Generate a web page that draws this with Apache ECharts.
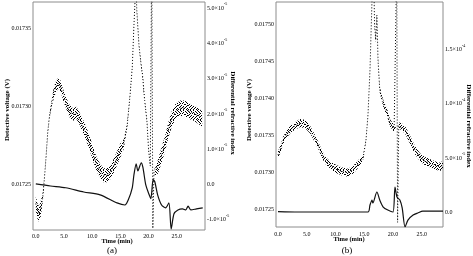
<!DOCTYPE html>
<html>
<head>
<meta charset="utf-8">
<script src="https://cdn.jsdelivr.net/npm/echarts@6/dist/echarts.min.js"></script>
<style>
html, body {margin: 0; padding: 0; background: #fff;}
#chart {width: 473px; height: 256px;}
</style>
</head>
<body>
<div id="chart"></div>
<script>
// ---- panel (a) ----
// detective voltage (V), centre of the noisy trace
var timeA = [0.0, 0.3, 0.6, 0.9, 1.2, 1.5, 1.8, 2.1, 2.4, 2.8, 3.2, 3.6, 4.0, 4.4, 4.9, 5.4,
    6.0, 6.6, 7.2, 7.8, 8.4, 9.0, 9.6, 10.2, 10.8, 11.4, 12.0, 12.6, 13.2, 13.8, 14.4, 15.0,
    15.6, 16.2, 16.7, 17.1, 17.4, 17.6, 17.75, 17.9, 18.3, 18.7, 18.9, 19.3, 19.7, 20.0, 20.3,
    20.55, 20.75, 20.95, 21.2, 21.7, 22.3, 22.9, 23.5, 24.1, 24.8, 25.6, 26.4, 27.2, 28.0, 28.8, 29.5];
var voltA = [0.017238, 0.017233, 0.017231, 0.017235, 0.017241, 0.017253, 0.017267, 0.017283,
    0.017293, 0.017302, 0.017309, 0.017313, 0.017315, 0.017313, 0.017307, 0.017302,
    0.017297, 0.017295, 0.017296, 0.017292, 0.017287, 0.017282, 0.017276, 0.017269,
    0.017263, 0.017259, 0.017256, 0.017256, 0.017258, 0.017262, 0.017267, 0.017272,
    0.017276, 0.017288, 0.017307, 0.017325, 0.017352, 0.017368, 0.017380, 0.017362,
    0.017339, 0.017326, 0.017321, 0.017304, 0.017291, 0.017272, 0.017262,
    0.017400, 0.017222, 0.017259, 0.017258, 0.017262, 0.017269, 0.017276, 0.017285,
    0.017292, 0.017297, 0.017299, 0.017299, 0.017297, 0.017296, 0.017294, 0.017292];
// half thickness of the noise band, in 1e-6 V
var spreadA = [5, 5, 5, 5, 3, 1, 1, 1, 1, 2, 3.5, 3.5, 3.5, 3.5, 3.5, 3.5,
    4, 4, 4, 4, 4.5, 4.5, 4.5, 4.5, 4.5, 4.5, 4.5, 4.5, 4.5, 4.5, 4.5, 4.5,
    3, 1.5, 0.8, 0.8, 0.8, 0.8, 0.8, 0.8, 0.8, 0.8, 2, 0.8, 0.8, 0.8, 0.8,
    0.8, 0.8, 0.8, 3, 4.5, 5, 5, 5, 5, 5, 5, 5, 5, 5, 5, 5];
// differential refractive index, x1e-5
var riTimeA = [0, 2.6, 5.3, 8.5, 11.4, 14.4, 15.8, 16.4, 17.1, 17.4, 17.8, 18.1, 18.7, 19.0,
    19.5, 20.1, 20.4, 20.8, 21.1, 21.6, 22.3, 23.0, 23.6, 24.0, 24.5, 25.2, 26.0, 26.6, 27.0,
    27.5, 28.5, 29.6];
var riA = [-0.03, -0.09, -0.14, -0.26, -0.34, -0.57, -0.63, -0.48, -0.14, 0.23, 0.54, 0.34,
    0.57, 0.43, -0.06, -0.34, -0.45, 0.09, 0.03, -0.34, -0.63, -0.71, -0.57, -1.31, -0.88,
    -0.77, -0.74, -0.77, -0.66, -0.77, -0.74, -0.71];

// ---- panel (b) ----
var timeB = [0.0, 0.5, 0.9, 1.5, 2.1, 2.9, 3.8, 4.7, 5.6, 6.3, 7.0, 7.6, 8.2, 9.0, 9.9, 11.0,
    12.2, 13.2, 14.3, 14.8, 15.3, 15.65, 16.0, 16.35, 16.6, 16.8, 17.0, 17.2, 17.4, 17.7, 18.4,
    19.0, 19.5, 20.2, 20.5, 20.65, 20.8, 21.0, 21.2, 22.1, 23.0, 23.8, 24.7, 25.5, 26.4, 27.3,
    28.2, 28.7];
var voltB = [0.017323, 0.017333, 0.017343, 0.017351, 0.017357, 0.017362, 0.017366, 0.017365,
    0.017357, 0.017347, 0.017336, 0.017325, 0.017316, 0.017310, 0.017305, 0.017301,
    0.017299, 0.017304, 0.017314, 0.017319, 0.017343, 0.017377, 0.017438, 0.017532,
    0.017580, 0.017500, 0.017478, 0.017512, 0.017451, 0.017411, 0.017390,
    0.017380, 0.017366, 0.017359, 0.017360, 0.017580, 0.017232, 0.017362, 0.017363,
    0.017357, 0.017343, 0.017330, 0.017320, 0.017315, 0.017312, 0.017309, 0.017307, 0.017310];
var spreadB = [5, 5, 5, 5, 5, 5, 5.5, 5.5, 5, 5, 5, 5, 5, 5, 5.5, 5.5,
    5.5, 5.5, 5, 3, 1, 1, 1, 1, 1, 3, 4, 3, 2, 4, 5,
    5, 5, 5, 2, 1, 1, 2, 5, 5, 5.5, 5.5, 5.5, 5.5, 5.5, 5.5, 5.5, 5.5];
var riTimeB = [0, 3.5, 15.65, 16.0, 16.35, 16.5, 17.2, 17.7, 18.3, 19.1, 20.0, 20.35, 20.7,
    21.2, 21.6, 22.1, 22.6, 23.5, 24.3, 25.2, 26.4, 28.7];
var riB = [-0.05, -0.09, -0.09, 0.55, 1.01, 0.74, 1.75, 1.01, 0.37, 0.09, -0.09, 2.21, 1.29,
    1.01, 0.28, -1.47, -0.83, -0.37, -0.18, 0, 0, 0];

// tick labels
var timeTicks = [0, 5, 10, 15, 20, 25];
var voltTicksA = [0.01725, 0.0173, 0.01735];
var riTicksA = [-1e-5, 0, 1e-5, 2e-5, 3e-5, 4e-5, 5e-5];
var voltTicksB = [0.01725, 0.0173, 0.01735, 0.0174, 0.01745, 0.0175];
var riTicksB = [0, 5e-5, 1e-4, 1.5e-4];

var FONT = 'Liberation Serif';

// speckle tile used to fill the noise band (irregular so it does not stripe)
var dots = [[0, 0], [3, 0], [7, 0], [1, 1], [5, 1], [8, 1], [3, 2], [6, 2], [9, 2],
    [0, 3], [2, 3], [7, 3], [4, 4], [5, 4], [9, 4], [1, 5], [7, 5], [8, 5],
    [0, 6], [3, 6], [6, 6], [2, 7], [5, 7], [9, 7], [1, 8], [4, 8], [7, 8],
    [0, 9], [6, 9], [8, 9], [3, 9]];
var tile = document.createElement('canvas');
tile.width = 10; tile.height = 10;
var tctx = tile.getContext('2d');
tctx.fillStyle = '#000';
dots.forEach(function (d) { tctx.fillRect(d[0], d[1], 1, 1); });
var speckle = {image: tile, repeat: 'repeat'};

var pairs = function (xs, ys, k) {
    return xs.map(function (x, i) { return [x, ys[i] * (k || 1)]; });
};

var bandSeries = function (times, volts, spread, xi, yi) {
    return {
        type: 'custom', xAxisIndex: xi, yAxisIndex: yi, clip: true, silent: true,
        data: [[times[0], volts[0]]],
        renderItem: function (params, api) {
            var up = [], low = [];
            for (var i = 0; i < times.length; i++) {
                up.push(api.coord([times[i], volts[i] + spread[i] * 1e-6]));
                low.unshift(api.coord([times[i], volts[i] - spread[i] * 1e-6]));
            }
            return {type: 'polygon', shape: {points: up.concat(low)}, style: {fill: speckle}};
        }
    };
};

var sciLabel = function (v) {
    if (Math.abs(v) < 1e-12) return '{m|0.0}';
    var e = Math.floor(Math.log10(Math.abs(v)) + 1e-9);
    var m = v / Math.pow(10, e);
    return '{m|' + m.toFixed(1) + '×10}{e|' + e + '}';
};
var sciRich = {
    m: {fontSize: 6, fontFamily: FONT, color: '#000', lineHeight: 9, verticalAlign: 'bottom'},
    e: {fontSize: 4, fontFamily: FONT, color: '#000', lineHeight: 4, verticalAlign: 'top'}
};

var xAxisOf = function (gi, min, max, margin) {
    return {
        gridIndex: gi, type: 'value', min: min, max: max,
        axisLine: {show: false}, axisTick: {show: false}, splitLine: {show: false},
        axisLabel: {
            customValues: timeTicks, margin: margin, fontSize: 6, fontFamily: FONT, color: '#000',
            formatter: function (v) { return v.toFixed(1); }
        }
    };
};
var voltAxisOf = function (gi, min, max, ticks) {
    return {
        gridIndex: gi, type: 'value', position: 'left', min: min, max: max,
        axisLine: {show: false}, axisTick: {show: false}, splitLine: {show: false},
        axisLabel: {
            customValues: ticks, margin: 2, fontSize: 6, fontFamily: FONT, color: '#000',
            formatter: function (v) { return v.toFixed(5); }
        }
    };
};
var riAxisOf = function (gi, min, max, ticks, margin) {
    return {
        gridIndex: gi, type: 'value', position: 'right', min: min, max: max,
        axisLine: {show: false}, axisTick: {show: false}, splitLine: {show: false},
        axisLabel: {customValues: ticks, margin: margin, formatter: sciLabel, rich: sciRich}
    };
};

var voltLine = function (times, volts, xi, yi) {
    return {
        type: 'line', xAxisIndex: xi, yAxisIndex: yi, data: pairs(times, volts),
        symbol: 'none', silent: true,
        lineStyle: {color: '#000', width: 1, type: [1, 2]}
    };
};
var riLine = function (times, vals, xi, yi) {
    return {
        type: 'line', xAxisIndex: xi, yAxisIndex: yi, data: pairs(times, vals, 1e-5),
        symbol: 'none', silent: true, smooth: 0.25,
        lineStyle: {color: '#111', width: 1.2}
    };
};

var nameText = function (text, x, y, rot, size, bold) {
    return {
        type: 'text', x: x, y: y, rotation: rot || 0, silent: true,
        style: {
            text: text, fill: '#000', font: (bold ? 'bold ' : '') + size + 'px "' + FONT + '"',
            align: 'center', verticalAlign: 'middle'
        }
    };
};

var chart = echarts.init(document.getElementById('chart'));
chart.setOption({
    animation: false,
    backgroundColor: '#fff',
    grid: [
        {left: 33, top: 2, width: 172, height: 228, show: true, borderColor: '#8c8c8c', borderWidth: 1},
        {left: 276, top: 2, width: 167, height: 225, show: true, borderColor: '#8c8c8c', borderWidth: 1}
    ],
    xAxis: [xAxisOf(0, -0.5, 30, 3), xAxisOf(1, -0.35, 28.7, 4)],
    yAxis: [
        voltAxisOf(0, 0.017221, 0.017367, voltTicksA),
        riAxisOf(0, -1.34e-5, 5.14e-5, riTicksA, 2),
        voltAxisOf(1, 0.0172257, 0.0175297, voltTicksB),
        riAxisOf(1, -1.47e-5, 1.924e-4, riTicksB, 2)
    ],
    series: [
        bandSeries(timeA, voltA, spreadA, 0, 0),
        voltLine(timeA, voltA, 0, 0),
        riLine(riTimeA, riA, 0, 1),
        bandSeries(timeB, voltB, spreadB, 1, 2),
        voltLine(timeB, voltB, 1, 2),
        riLine(riTimeB, riB, 1, 3)
    ],
    graphic: [
        nameText('Detective voltage (V)', 7, 110, Math.PI / 2, 7, true),
        nameText('Detective voltage (V)', 249, 110, Math.PI / 2, 7, true),
        nameText('Differential refractive index', 233, 113, -Math.PI / 2, 7, true),
        nameText('Differential refractive index', 469, 126, -Math.PI / 2, 7, true),
        nameText('Time (min)', 117, 241, 0, 6.5, true),
        nameText('Time (min)', 349, 239, 0, 6.5, true),
        nameText('(a)', 112, 251, 0, 9, false),
        nameText('(b)', 347, 251, 0, 9, false)
    ]
});
</script>
</body>
</html>
